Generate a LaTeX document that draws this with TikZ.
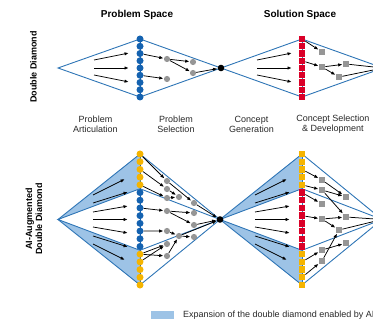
\documentclass[tikz,border=0pt]{standalone}
\usepackage{fontspec}
\setmainfont{Liberation Sans}
\usetikzlibrary{arrows.meta}
\definecolor{lineblue}{RGB}{46,117,182}
\definecolor{dotblue}{RGB}{20,98,176}
\definecolor{aiorange}{RGB}{245,180,0}
\definecolor{sqred}{RGB}{218,0,40}
\definecolor{dotgrey}{RGB}{150,150,150}
\definecolor{fillblue}{RGB}{157,195,230}
\definecolor{labgrey}{RGB}{40,40,40}
\begin{document}
\begin{tikzpicture}[x=1pt,y=-1pt,
  dia/.style={draw=lineblue,line width=0.9pt,line join=miter},
  arr/.style={-{Latex[length=4.2pt,width=3.4pt]},line width=0.75pt,black,shorten >=0.3pt},
  bdot/.style={circle,fill=dotblue,inner sep=0,minimum size=7pt},
  odot/.style={circle,fill=aiorange,inner sep=0,minimum size=7pt},
  gdot/.style={circle,fill=dotgrey,inner sep=0,minimum size=6.2pt},
  rsq/.style={rectangle,fill=sqred,inner sep=0,minimum size=6.4pt},
  osq/.style={rectangle,fill=aiorange,inner sep=0,minimum size=6.4pt},
  gsq/.style={rectangle,fill=dotgrey,inner sep=0,minimum size=6.2pt},
  kdot/.style={circle,fill=black,inner sep=0,minimum size=6.6pt},
  title/.style={font=\bfseries\fontsize{10}{12}\selectfont},
  side/.style={font=\bfseries\fontsize{9}{10}\selectfont,rotate=90,align=center},
  lab/.style={font=\fontsize{9}{10}\selectfont,align=center,text=labgrey,inner sep=0},
]
\useasboundingbox (0,0) rectangle (373,321);
\clip (0,0) rectangle (373,321);

% ---------- titles and labels
\node[title] (t1) at (137,15) {Problem Space};
\node[title] (t2) at (300,15) {Solution Space};
\node[side] (s1) at (33.5,67) {Double Diamond};
\node[side] (s2) at (34,219) {AI-Augmented\\Double Diamond};
\node[lab] (l1) at (95.5,124) {Problem\\Articulation};
\node[lab] (l2) at (176,124) {Problem\\Selection};
\node[lab] (l3) at (251.5,124) {Concept\\Generation};
\node[lab] (l4) at (333,124) {Concept Selection\\\& Development};

% ---------- upper double diamond
\coordinate (L1) at (58,68);
\coordinate (T1) at (140,39);
\coordinate (B1) at (140,97);
\coordinate (M1) at (221,68);
\coordinate (T2) at (302,39);
\coordinate (B2) at (302,97);
\coordinate (R2) at (383,68);
\draw[dia] (L1)--(T1)--(M1)--(T2)--(R2)--(B2)--(M1)--(B1)--cycle;
\draw[dotblue,line width=0.6pt] (T1)--(B1);
\draw[lineblue,line width=0.6pt] (T2)--(B2);
\foreach \i in {0,...,8} \node[bdot] (ub\i) at (140,{39+7.25*\i}) {};
\foreach \i in {0,...,8} \node[rsq] (ur\i) at (302,{39+7.25*\i}) {};
\node[kdot] (k1) at (M1) {};

\foreach \sy/\ey [count=\k] in {60/53,68/68,75/82}{
  \coordinate (uas\k) at (94,\sy);
  \coordinate (uae\k) at (129,\ey);
  \draw[arr] (uas\k)--(uae\k);
  \coordinate (ubs\k) at (257,\sy);
  \coordinate (ube\k) at (292,\ey);
  \draw[arr] (ubs\k)--(ube\k);
}
\node[gdot] (ug1) at (167,59) {};
\node[gdot] (ug2) at (193,62) {};
\node[gdot] (ug3) at (193,73) {};
\node[gdot] (ug4) at (167,79) {};
\draw[arr] (ub2)--(ug1);
\draw[arr] (ub5)--(ug4);
\draw[arr] (ug1)--(ug2);
\draw[arr] (ug1)--(ug3);
\draw[arr] (ug3)--(k1);

\node[gsq] (uq1) at (322,52) {};
\node[gsq] (uq2) at (322,67) {};
\node[gsq] (uq3) at (346,64) {};
\node[gsq] (uq4) at (339,77) {};
\draw[arr] (ur0)--(uq1);
\draw[arr] (ur3)--(uq2);
\draw[arr] (uq2)--(uq3);
\draw[arr] (uq2)--(uq4);
\draw[arr] (uq3)--(R2);
\draw[arr] (uq4)--(R2);

% ---------- lower AI-augmented double diamond
\coordinate (L3) at (58,219.5);
\coordinate (T3) at (140,154);
\coordinate (B3) at (140,285);
\coordinate (IT3) at (140,188.7);
\coordinate (IB3) at (140,250.3);
\coordinate (M3) at (220,219.5);
\coordinate (T4) at (302,154);
\coordinate (B4) at (302,285);
\coordinate (IT4) at (302,188.7);
\coordinate (IB4) at (302,250.3);
\coordinate (R4) at (382,219.5);
\fill[fillblue] (L3)--(T3)--(IT3)--cycle;
\fill[fillblue] (L3)--(IB3)--(B3)--cycle;
\fill[fillblue] (M3)--(T4)--(IT4)--cycle;
\fill[fillblue] (M3)--(IB4)--(B4)--cycle;
\draw[dia] (L3)--(T3)--(M3)--(T4)--(R4)--(B4)--(M3)--(B3)--cycle;
\draw[dia] (L3)--(IT3)--(M3)--(IT4)--(R4)--(IB4)--(M3)--(IB3)--cycle;
\draw[dotblue,line width=0.6pt] (T3)--(B3);
\draw[lineblue,line width=0.6pt] (T4)--(B4);
\foreach \i in {0,...,4,13,14,15,16,17} {
  \node[odot] (lc\i) at (140,{154+7.706*\i}) {};
  \node[osq] (ls\i) at (302,{154+7.706*\i}) {};
}
\foreach \i in {5,...,12} {
  \node[bdot] (lc\i) at (140,{154+7.706*\i}) {};
  \node[rsq] (ls\i) at (302,{154+7.706*\i}) {};
}
\node[kdot] (k2) at (M3) {};

\foreach \sy/\ey/\ex [count=\k] in {195/179/125,203/192/128,212/206/128,219.5/219.5/128,227/233/128,236/247/128,244/260/125}{
  \coordinate (las\k) at (93,\sy);
  \coordinate (lae\k) at (\ex,\ey);
  \draw[arr] (las\k)--(lae\k);
  \coordinate (lbs\k) at (255,\sy);
  \coordinate (lbe\k) at (\ex+162,\ey);
  \draw[arr] (lbs\k)--(lbe\k);
}

% right half, diamond 1
\node[gdot] (g1) at (167,181) {};
\node[gdot] (g2) at (167,189) {};
\node[gdot] (g3) at (167,198) {};
\node[gdot] (g4) at (179,197) {};
\node[gdot] (g5) at (194,203) {};
\node[gdot] (g6) at (167,211) {};
\node[gdot] (g7) at (194,213) {};
\node[gdot] (g8) at (194,225) {};
\node[gdot] (g9) at (167,231) {};
\node[gdot] (g10) at (179,236) {};
\node[gdot] (g11) at (194,237) {};
\node[gdot] (g12) at (167,244) {};
\node[gdot] (g13) at (167,256) {};
\draw[arr] (lc0)--(g1);
\draw[arr] (lc2)--(g2);
\draw[arr] (lc4)--(g3);
\draw[arr] (g1)--(g5);
\draw[arr] (g2)--(g4);
\draw[arr] (g3)--(g4);
\draw[arr] (g5)--(k2);
\draw[arr] (lc7)--(g6);
\draw[arr] (g6)--(g7);
\draw[arr] (g6)--(g8);
\draw[arr] (g8)--(k2);
\draw[arr] (lc10)--(g9);
\draw[arr] (g9)--(g10);
\draw[arr] (g10)--(g11);
\draw[arr] (g10)--(k2);
\draw[arr] (lc13)--(g12);
\draw[arr] (lc13)--(g13);
\draw[arr] (lc14)--(g12);
\draw[arr] (g13)--(g10);

% right half, diamond 2
\node[gsq] (q1) at (322,180) {};
\node[gsq] (q2) at (322,190) {};
\node[gsq] (q3) at (322,204) {};
\node[gsq] (q4) at (346,197) {};
\node[gsq] (q5) at (322,219) {};
\node[gsq] (q6) at (346,217) {};
\node[gsq] (q7) at (339,230) {};
\node[gsq] (q8) at (346,243) {};
\node[gsq] (q9) at (322,250) {};
\node[gsq] (q10) at (322,261) {};
\draw[arr] (ls2)--(q1);
\draw[arr] (ls4)--(q2);
\draw[arr] (q1)--(q4);
\draw[arr] (q2)--(q4);
\draw[arr] (q2)--(q6);
\draw[arr] (ls5)--(q3);
\draw[arr] (ls8)--(q5);
\draw[arr] (q5)--(q6);
\draw[arr] (q5)--(q7);
\draw[arr] (q6)--(R4);
\draw[arr] (q7)--(R4);
\draw[arr] (ls14)--(q9);
\draw[arr] (ls16)--(q10);
\draw[arr] (q9)--(q8);
\draw[arr] (q10)--(q7);

% ---------- legend
\node[fill=fillblue,inner sep=0,minimum width=23pt,minimum height=8.5pt] (lg) at (162.5,315) {};
\node[lab,anchor=west] (lgt) at (183,315) {Expansion of the double diamond enabled by AI};
\end{tikzpicture}
\end{document}
